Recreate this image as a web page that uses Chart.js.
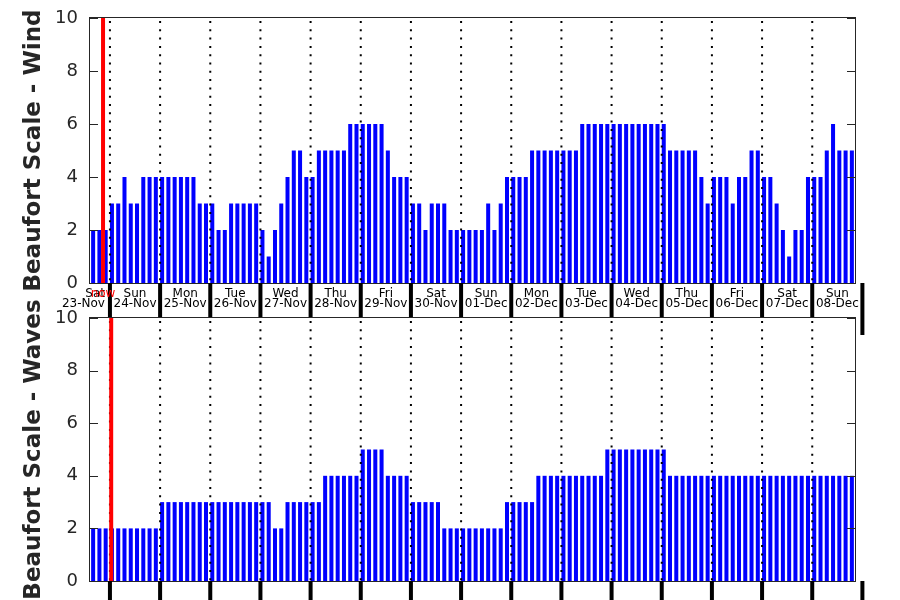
<!DOCTYPE html>
<html>
<head>
<meta charset="utf-8">
<script src="https://cdn.jsdelivr.net/npm/chart.js@4.4.1/dist/chart.umd.min.js"></script>
<style>
  body { margin: 0; background: #fff; }
  #wrap { position: relative; width: 900px; height: 600px; overflow: hidden; }
  #windChart { position: absolute; left: 0; top: 0; }
  #waveChart { position: absolute; left: 0; top: 300px; z-index: 1; }
</style>
</head>
<body>
<div id="wrap">
  <canvas id="windChart" width="900" height="340"></canvas>
  <canvas id="waveChart" width="900" height="300"></canvas>
</div>
<script>
// days shown on the x axis (first one starts at 15:00, 3-hourly bars)
const dayNames = ['Sat', 'Sun', 'Mon', 'Tue', 'Wed', 'Thu', 'Fri', 'Sat',
                  'Sun', 'Mon', 'Tue', 'Wed', 'Thu', 'Fri', 'Sat', 'Sun'];
const dayDates = ['23-Nov', '24-Nov', '25-Nov', '26-Nov', '27-Nov', '28-Nov', '29-Nov', '30-Nov',
                  '01-Dec', '02-Dec', '03-Dec', '04-Dec', '05-Dec', '06-Dec', '07-Dec', '08-Dec'];
const firstHour = 15;
const stepHours = 3;

// Beaufort force, wind
const windBft = [
  2, 2, 2,
  3, 3, 4, 3, 3, 4, 4, 4,
  4, 4, 4, 4, 4, 4, 3, 3,
  3, 2, 2, 3, 3, 3, 3, 3,
  2, 1, 2, 3, 4, 5, 5, 4,
  4, 5, 5, 5, 5, 5, 6, 6,
  6, 6, 6, 6, 5, 4, 4, 4,
  3, 3, 2, 3, 3, 3, 2, 2,
  2, 2, 2, 2, 3, 2, 3, 4,
  4, 4, 4, 5, 5, 5, 5, 5,
  5, 5, 5, 6, 6, 6, 6, 6,
  6, 6, 6, 6, 6, 6, 6, 6,
  6, 5, 5, 5, 5, 5, 4, 3,
  4, 4, 4, 3, 4, 4, 5, 5,
  4, 4, 3, 2, 1, 2, 2, 4,
  4, 4, 5, 6, 5, 5, 5
];

// Beaufort force, waves
const waveBft = [
  2, 2, 2,
  2, 2, 2, 2, 2, 2, 2, 2,
  3, 3, 3, 3, 3, 3, 3, 3,
  3, 3, 3, 3, 3, 3, 3, 3,
  3, 3, 2, 2, 3, 3, 3, 3,
  3, 3, 4, 4, 4, 4, 4, 4,
  5, 5, 5, 5, 4, 4, 4, 4,
  3, 3, 3, 3, 3, 2, 2, 2,
  2, 2, 2, 2, 2, 2, 2, 3,
  3, 3, 3, 3, 4, 4, 4, 4,
  4, 4, 4, 4, 4, 4, 4, 5,
  5, 5, 5, 5, 5, 5, 5, 5,
  5, 4, 4, 4, 4, 4, 4, 4,
  4, 4, 4, 4, 4, 4, 4, 4,
  4, 4, 4, 4, 4, 4, 4, 4,
  4, 4, 4, 4, 4, 4, 4
];

// "now" marker, in bar units from the first bar
const nowWind = 1.9;
const nowWave = 3.2;

const yTicks = [0, 2, 4, 6, 8, 10];

// category labels: "23-Nov 15:00", ...
const perDay = 24 / stepHours;
const firstOffset = firstHour / stepHours; // bars before the first one on day 0
const labels = windBft.map((_, i) => {
  const k = i + firstOffset;
  const d = Math.floor(k / perDay);
  const h = (k % perDay) * stepHours;
  return dayDates[d] + ' ' + String(h).padStart(2, '0') + ':00';
});

const BAR_PCT = 0.64;
const AXIS_COL = '#262626';

function panelPlugin(now, showLabels, whiteArea) {
  return {
    id: 'panel',
    beforeDatasetsDraw(chart) {
      if (!whiteArea) return;
      const a = chart.chartArea;
      const ctx = chart.ctx;
      ctx.save();
      ctx.fillStyle = '#fff';
      ctx.fillRect(a.left, a.top, a.right - a.left, a.bottom - a.top);
      ctx.restore();
    },
    afterDatasetsDraw(chart) {
      const ctx = chart.ctx;
      const a = chart.chartArea;
      const xs = chart.scales.x;
      const ys = chart.scales.y;
      const cat = xs.getPixelForValue(1) - xs.getPixelForValue(0);
      const half = cat * BAR_PCT / 2;
      // bar index where each day starts (midnight)
      const starts = dayNames.map((_, d) => d * perDay - firstOffset);
      const bx = i => xs.getPixelForValue(i) - half;

      ctx.save();
      // dotted day separators
      ctx.strokeStyle = '#000';
      ctx.lineWidth = 2;
      ctx.setLineDash([2, 6.3]);
      starts.forEach(s => {
        const x = bx(s);
        if (x <= a.left + 2 || x >= a.right) return;
        ctx.beginPath();
        ctx.moveTo(x, a.top + 3);
        ctx.lineTo(x, a.bottom);
        ctx.stroke();
      });
      ctx.setLineDash([]);

      // now line
      ctx.strokeStyle = '#ff0000';
      ctx.lineWidth = 4;
      const nx = bx(now);
      ctx.beginPath();
      ctx.moveTo(nx, a.top);
      ctx.lineTo(nx, a.bottom);
      ctx.stroke();

      // frame
      ctx.strokeStyle = AXIS_COL;
      ctx.lineWidth = 1;
      ctx.strokeRect(a.left - 0.5, a.top - 0.5, a.right - a.left + 1, a.bottom - a.top + 1);
      // inward y ticks, both sides
      yTicks.forEach(v => {
        const y = Math.round(ys.getPixelForValue(v)) + 0.5;
        ctx.beginPath();
        ctx.moveTo(a.left, y); ctx.lineTo(a.left + 8, y);
        ctx.moveTo(a.right, y); ctx.lineTo(a.right - 8, y);
        ctx.stroke();
      });

      // thick day ticks below the axis
      ctx.strokeStyle = '#000';
      ctx.lineWidth = 4;
      const ends = starts.concat([starts[starts.length - 1] + perDay]);
      ends.forEach(s => {
        const x = bx(s);
        if (x <= a.left + 2) return;
        ctx.beginPath();
        ctx.moveTo(x, a.bottom);
        ctx.lineTo(x, a.bottom + 52);
        ctx.stroke();
      });

      if (showLabels) {
        ctx.font = '12px "DejaVu Sans"';
        ctx.fillStyle = '#000';
        ctx.textBaseline = 'alphabetic';
        starts.forEach((s, d) => {
          const x0 = bx(s), x1 = bx(s + perDay);
          let cx = (x0 + x1) / 2;
          if (cx < a.left) {
            ctx.textAlign = 'right';
            cx = x1 - 5;
          } else {
            ctx.textAlign = 'center';
          }
          ctx.fillText(dayNames[d], cx, a.bottom + 13.5);
          ctx.fillText(dayDates[d], cx, a.bottom + 23.5);
        });
        ctx.textAlign = 'center';
        ctx.fillStyle = '#ff0000';
        ctx.fillText('now', nx, a.bottom + 13.5);
      }
      ctx.restore();
    }
  };
}

function makePanel(id, values, title, now, axisHeight, showLabels, whiteArea) {
  const ctx = document.getElementById(id).getContext('2d');
  return new Chart(ctx, {
    type: 'bar',
    data: {
      labels: labels,
      datasets: [{
        data: values,
        backgroundColor: '#0000ff',
        borderWidth: 0,
        barPercentage: BAR_PCT,
        categoryPercentage: 1
      }]
    },
    options: {
      responsive: false,
      animation: false,
      layout: { padding: { top: 18, right: 45, left: 0, bottom: 0 } },
      plugins: { legend: { display: false }, tooltip: { enabled: false } },
      scales: {
        x: {
          grid: { display: false, drawTicks: false },
          border: { display: false },
          ticks: { display: false },
          afterFit: s => { s.height = axisHeight; s.paddingLeft = 0; s.paddingRight = 0; }
        },
        y: {
          min: 0,
          max: 10,
          afterBuildTicks: s => { s.ticks = yTicks.map(v => ({ value: v })); },
          ticks: {
            color: AXIS_COL,
            padding: 12,
            font: { family: 'DejaVu Sans', size: 18 }
          },
          grid: { display: false, drawTicks: false },
          border: { display: false },
          title: {
            display: true,
            text: title,
            color: AXIS_COL,
            padding: { top: 20, bottom: 0 },
            font: { family: 'DejaVu Sans', size: 23, weight: 'bold' }
          },
          afterFit: s => { s.width = 90; s.paddingTop = 0; s.paddingBottom = 0; }
        }
      }
    },
    plugins: [panelPlugin(now, showLabels, whiteArea)]
  });
}

makePanel('windChart', windBft, 'Beaufort Scale - Wind', nowWind, 57, true, false);
makePanel('waveChart', waveBft, 'Beaufort Scale - Waves', nowWave, 19, false, true);
</script>
</body>
</html>
